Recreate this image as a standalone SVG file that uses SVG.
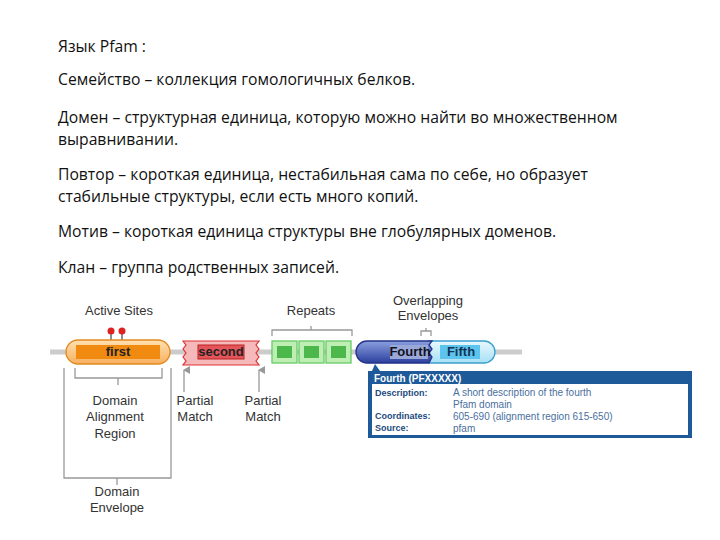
<svg xmlns="http://www.w3.org/2000/svg" width="720" height="540" viewBox="0 0 720 540">
<style>
.t{font-family:"Open Sans","DejaVu Sans",sans-serif;font-size:15.7px;fill:#111}
.l{font-family:"Liberation Sans",Arial,sans-serif;font-size:13px;fill:#333;text-anchor:middle}
.br{fill:none;stroke:#999;stroke-width:1.3}
.d{font-family:"Liberation Sans",Arial,sans-serif;font-size:10px}
</style>
<defs>
<marker id="ar" markerWidth="8" markerHeight="8" refX="4" refY="1" orient="auto-start-reverse" markerUnits="userSpaceOnUse"><path d="M0,7 L4,0 L8,7 Z" fill="#999"/></marker>
<linearGradient id="og" x1="0" y1="0" x2="0" y2="1"><stop offset="0" stop-color="#ffe0b0"/><stop offset="1" stop-color="#f7b060"/></linearGradient>
<linearGradient id="bg" x1="0" y1="0" x2="0" y2="1"><stop offset="0" stop-color="#8aa0e0"/><stop offset="1" stop-color="#2c3f9e"/></linearGradient>
<linearGradient id="cg" x1="0" y1="0" x2="0" y2="1"><stop offset="0" stop-color="#e8f8ff"/><stop offset="1" stop-color="#a8e0f5"/></linearGradient>
</defs>
<rect width="720" height="540" fill="#fff"/>
<g id="text">
<text x="58" y="52" class="t" font-size="20">Язык Pfam :</text>
<text x="58" y="85" class="t">Семейство –  коллекция гомологичных белков.</text>
<text x="58" y="123" class="t">Домен – структурная единица, которую можно найти во множественном</text>
<text x="58" y="145" class="t">выравнивании.</text>
<text x="58" y="180" class="t">Повтор – короткая единица,  нестабильная сама по себе, но образует</text>
<text x="58" y="202" class="t">стабильные структуры, если есть много копий.</text>
<text x="58" y="237" class="t">Мотив – короткая единица структуры вне глобулярных доменов.</text>
<text x="58" y="273" class="t">Клан – группа родственных записей.</text>
</g>
<g id="connectors">
<line x1="50" y1="352" x2="522" y2="352" stroke="#ccc" stroke-width="5"/>
<path class="br" d="M75,368 V378 H162 V368 M118,378 V385"/>
<path class="br" d="M64,368 V478 H171 V368 M117,478 V485"/>
<line x1="184" y1="392" x2="184" y2="370" stroke="#999" stroke-width="1.3" marker-end="url(#ar)"/>
<line x1="259" y1="392" x2="259" y2="370" stroke="#999" stroke-width="1.3" marker-end="url(#ar)"/>
<path class="br" d="M272,336 V330 H352 V336 M311,330 V326"/>
<path class="br" d="M421,336 V331 H431 V336 M426,331 V328"/>
<g stroke="#444" stroke-width="1.2"><line x1="111" y1="333" x2="111" y2="343"/><line x1="122" y1="333" x2="122" y2="343"/></g>
<circle cx="111" cy="331" r="3.5" fill="#d22"/><circle cx="122" cy="331" r="3.5" fill="#d22"/>
</g>
<g id="first">
<rect x="66" y="340" width="104" height="24" rx="12" fill="url(#og)" stroke="#e08a20" stroke-width="1.3"/>
<rect x="76" y="345" width="84" height="14" fill="#f08a10"/>
<text x="118" y="356" class="l" font-weight="bold" font-size="11" style="fill:#222">first</text>
</g>
<g id="second">
<path d="M183,341 H259 l-3,4 3,4 -3,4 3,4 -3,4 3,4 H183 l3,-4 -3,-4 3,-4 -3,-4 3,-4 z" fill="#f6b9bb" stroke="#d33" stroke-width="1.2"/>
<rect x="198" y="345" width="46" height="14" fill="#e4555a" stroke="#b22"/>
<text x="221" y="356" class="l" font-weight="bold" font-size="11" style="fill:#222">second</text>
</g>
<g id="repeats" stroke="#6c6" stroke-width="1.3" fill="#bfeeb5">
<rect x="272" y="341" width="25" height="22"/><rect x="299" y="341" width="25" height="22"/><rect x="326" y="341" width="25" height="22"/>
<rect x="277" y="346" width="15" height="12" fill="#4cb84c" stroke="none"/><rect x="304" y="346" width="15" height="12" fill="#4cb84c" stroke="none"/><rect x="331" y="346" width="15" height="12" fill="#4cb84c" stroke="none"/>
</g>
<g id="fifth">
<rect x="420" y="341" width="75" height="22" rx="11" fill="url(#cg)" stroke="#3aa0d0" stroke-width="1.3"/>
<rect x="440" y="345" width="40" height="14" fill="#5cc4ee"/>
<text x="461" y="356" class="l" font-weight="bold" font-size="11" style="fill:#135">Fifth</text>
</g>
<g id="fourth">
<path d="M367,341 H432 l-3,4 3,4 -3,4 3,4 -3,6 H367 a11,11 0 0 1 0,-22 z" fill="url(#bg)" stroke="#223388" stroke-width="1.3"/>
<rect x="390" y="345" width="38" height="14" fill="#9aa8d8"/>
<text x="410" y="356" class="l" font-weight="bold" font-size="11" style="fill:#112">Fourth</text>
</g>
<g id="tooltip">
<path d="M372,371 L375,364 L380,371 Z" fill="#1e5a9a"/>
<rect x="368" y="371" width="324" height="67" fill="#1e5a9a"/>
<rect x="372" y="384" width="316" height="51" fill="#fff"/>
<text x="374" y="382" class="d" font-weight="bold" font-size="11" fill="#fff">Fourth (PFXXXXX)</text>
<g class="d" fill="#1e4a80"><text x="375" y="396" font-weight="bold" font-size="9">Description:</text><text x="375" y="419" font-weight="bold" font-size="9">Coordinates:</text><text x="375" y="431" font-weight="bold" font-size="9">Source:</text></g>
<g class="d" fill="#4a6fa0"><text x="453" y="396">A short description of the fourth</text><text x="453" y="408">Pfam domain</text><text x="453" y="420">605-690 (alignment region 615-650)</text><text x="453" y="432">pfam</text></g>
</g>
<g id="labels">
<text x="119" y="315" class="l">Active Sites</text>
<text x="311" y="315" class="l">Repeats</text>
<text x="428" y="305" class="l">Overlapping</text><text x="428" y="320" class="l">Envelopes</text>
<text x="115" y="405" class="l">Domain</text><text x="115" y="421" class="l">Alignment</text><text x="115" y="438" class="l">Region</text>
<text x="195" y="405" class="l">Partial</text><text x="195" y="421" class="l">Match</text>
<text x="263" y="405" class="l">Partial</text><text x="263" y="421" class="l">Match</text>
<text x="117" y="496" class="l">Domain</text><text x="117" y="512" class="l">Envelope</text>
</g>
</svg>
